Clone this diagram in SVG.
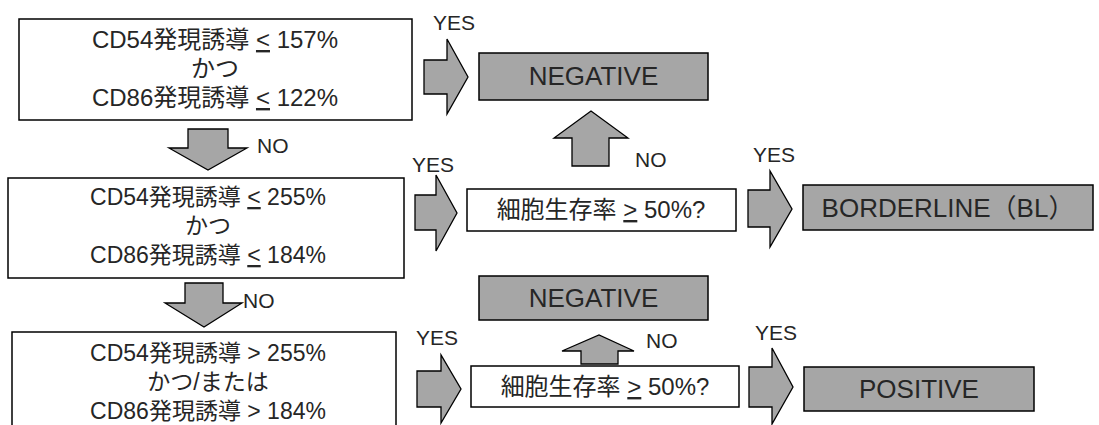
<svg xmlns="http://www.w3.org/2000/svg" width="1099" height="425" viewBox="0 0 1099 425">
  <style>
    text { font-family: "Liberation Sans", "Noto Sans CJK JP", sans-serif; fill: #262626; text-anchor: middle; }
    .cond { fill: #ffffff; stroke: #000000; stroke-width: 1.5; }
    .result { fill: #a6a6a6; stroke: #000000; stroke-width: 1.5; }
    .arrow { fill: #a6a6a6; stroke: #000000; stroke-width: 1.3; stroke-linejoin: miter; }
    .t24 { font-size: 24px; }
    .t23 { font-size: 23px; }
    .res { font-size: 26px; }
    .lbl { font-size: 21px; text-anchor: start; }
    .ul { text-decoration: underline; }
  </style>

  <!-- first decision -->
  <g id="node-cond1">
    <rect class="cond" x="19" y="19" width="393" height="101"/>
    <text class="t24" x="215" y="48">CD54発現誘導 <tspan class="ul">&lt;</tspan> 157%</text>
    <text class="t24" x="215" y="77">かつ</text>
    <text class="t24" x="215" y="106">CD86発現誘導 <tspan class="ul">&lt;</tspan> 122%</text>
  </g>

  <!-- second decision -->
  <g id="node-cond2">
    <rect class="cond" x="8" y="178" width="396" height="100"/>
    <text class="t23" x="208" y="205">CD54発現誘導 <tspan class="ul">&lt;</tspan> 255%</text>
    <text class="t23" x="208" y="234">かつ</text>
    <text class="t23" x="208" y="263">CD86発現誘導 <tspan class="ul">&lt;</tspan> 184%</text>
  </g>

  <!-- third decision -->
  <g id="node-cond3">
    <rect class="cond" x="12" y="332" width="384" height="100"/>
    <text class="t23" x="208" y="361">CD54発現誘導 &gt; 255%</text>
    <text class="t23" x="208" y="390">かつ/または</text>
    <text class="t23" x="208" y="419">CD86発現誘導 &gt; 184%</text>
  </g>

  <!-- viability checks -->
  <g id="node-viability1">
    <rect class="cond" x="467" y="189" width="269" height="42"/>
    <text class="t24" x="601" y="218">細胞生存率 <tspan class="ul">&gt;</tspan> 50%?</text>
  </g>
  <g id="node-viability2">
    <rect class="cond" x="471" y="366" width="268" height="41"/>
    <text class="t24" x="605" y="395">細胞生存率 <tspan class="ul">&gt;</tspan> 50%?</text>
  </g>

  <!-- outcomes -->
  <g id="node-negative1">
    <rect class="result" x="479" y="53" width="229" height="47"/>
    <text class="res" x="593.5" y="85">NEGATIVE</text>
  </g>
  <g id="node-borderline">
    <rect class="result" x="803" y="185" width="290" height="45"/>
    <text class="res" x="948" y="217">BORDERLINE（BL）</text>
  </g>
  <g id="node-negative2">
    <rect class="result" x="479" y="276" width="229" height="44"/>
    <text class="res" x="593.5" y="307">NEGATIVE</text>
  </g>
  <g id="node-positive">
    <rect class="result" x="804" y="367" width="230" height="44"/>
    <text class="res" x="919" y="398">POSITIVE</text>
  </g>

  <!-- block arrows and their labels -->
  <g id="connectors">
    <polygon class="arrow" points="424,60 447,60 447,39 468,77 447,114 447,94 424,94"/>
    <text class="lbl" x="433" y="30">YES</text>

    <polygon class="arrow" points="188,129 228,129 228,148 247,148 208,170 169,148 188,148"/>
    <text class="lbl" x="257" y="153">NO</text>

    <polygon class="arrow" points="415,195 436,195 436,175 457,213 436,251 436,230 415,230"/>
    <text class="lbl" x="412" y="172">YES</text>

    <polygon class="arrow" points="572,166 572,138 554,138 591,111 628,138 609,138 609,166"/>
    <text class="lbl" x="635" y="167">NO</text>

    <polygon class="arrow" points="748,190 770,190 770,171 792,209 770,247 770,227 748,227"/>
    <text class="lbl" x="753" y="162">YES</text>

    <polygon class="arrow" points="185,283 223,283 223,303 242,303 204,327 165,303 185,303"/>
    <text class="lbl" x="243" y="308">NO</text>

    <polygon class="arrow" points="417,371 441,371 441,355 461,389 441,423 441,407 417,407"/>
    <text class="lbl" x="416" y="345">YES</text>

    <polygon class="arrow" points="581,364 581,351 562,351 599,335 634,351 618,351 618,364"/>
    <text class="lbl" x="646" y="348">NO</text>

    <polygon class="arrow" points="749,367 772,367 772,348 793,387 772,424 772,407 749,407"/>
    <text class="lbl" x="755" y="340">YES</text>
  </g>
</svg>
